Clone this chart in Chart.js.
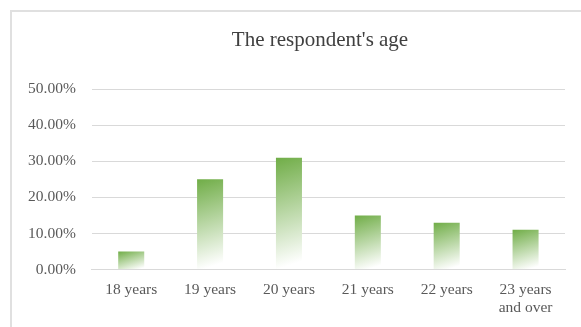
<!DOCTYPE html>
<html lang="en">
<head>
  <meta charset="UTF-8" />
  <title>The respondent's age</title>
  <script src="https://cdn.jsdelivr.net/npm/chart.js"></script>
  <style>
    html, body { margin: 0; padding: 0; background: #fff; overflow: hidden; width: 581px; height: 327px; }
    .frame { position: absolute; left: 10px; top: 10px; width: 640px; height: 400px; border: 2px solid #e0e0e0; }
    #ageChart { position: absolute; left: 0; top: 0; }
  </style>
</head>
<body>
  <div class="frame"></div>
  <canvas id="ageChart" width="640" height="327"></canvas>

  <script>
    // data
    const categories = ['18 years', '19 years', '20 years', '21 years', '22 years', ['23 years', 'and over']];
    const shares = [5, 25, 31, 15, 13, 11];
    const yMax = 50;
    const yStep = 10;

    const serif = "'Liberation Serif', 'Times New Roman', serif";
    const barPct = 0.33;

    // green at the top fading to white, slightly tilted like the Excel fill
    function barFill(ctx) {
      const chart = ctx.chart;
      const xs = chart.scales.x, ys = chart.scales.y;
      if (!xs || !ys || !chart.chartArea || ctx.raw === undefined) return '#70AD47';
      const w = (xs.width / categories.length) * barPct;
      const left = xs.getPixelForValue(ctx.dataIndex) - w / 2;
      const top = ys.getPixelForValue(ctx.raw);
      const base = ys.getPixelForValue(0);
      const angle = 72 * Math.PI / 180;
      const dx = Math.cos(angle), dy = Math.sin(angle);
      const len = w * dx + (base - top) * dy;
      const g = chart.ctx.createLinearGradient(left, top, left + dx * len, top + dy * len);
      g.addColorStop(0, '#70AD47');
      g.addColorStop(0.93, '#ffffff');
      return g;
    }

    // the title sits centred on the whole chart frame, not on the plot
    const titleShift = {
      id: 'titleShift',
      afterLayout(chart) {
        const t = chart.titleBlock;
        if (!t) return;
        const move = 320 - (t.left + t.right) / 2;
        t.left += move;
        t.right += move;
      }
    };

    new Chart(document.getElementById('ageChart'), {
      type: 'bar',
      data: {
        labels: categories,
        datasets: [{
          label: 'Age',
          data: shares,
          backgroundColor: barFill,
          borderWidth: 0,
          categoryPercentage: 1,
          barPercentage: barPct
        }]
      },
      plugins: [titleShift],
      options: {
        responsive: false,
        animation: false,
        layout: { padding: { left: 12, right: 75, top: 0, bottom: -1.5 } },
        plugins: {
          legend: { display: false },
          tooltip: { enabled: false },
          title: {
            display: true,
            text: "The respondent's age",
            color: '#404040',
            font: { family: serif, size: 21, weight: 'normal' },
            padding: { top: 28, bottom: 36 }
          }
        },
        scales: {
          x: {
            grid: { display: false, drawTicks: false },
            border: { color: '#d9d9d9', width: 1 },
            ticks: {
              color: '#595959',
              font: { family: serif, size: 15.5, lineHeight: 1.16 },
              padding: 11.5,
              maxRotation: 0,
              autoSkip: false
            }
          },
          y: {
            min: 0,
            max: yMax,
            grid: { color: '#d9d9d9', lineWidth: 1, drawTicks: false },
            border: { display: false },
            ticks: {
              stepSize: yStep,
              color: '#595959',
              font: { family: serif, size: 15.5 },
              padding: 16,
              callback: v => v.toFixed(2) + '%'
            }
          }
        }
      }
    });
  </script>
</body>
</html>
